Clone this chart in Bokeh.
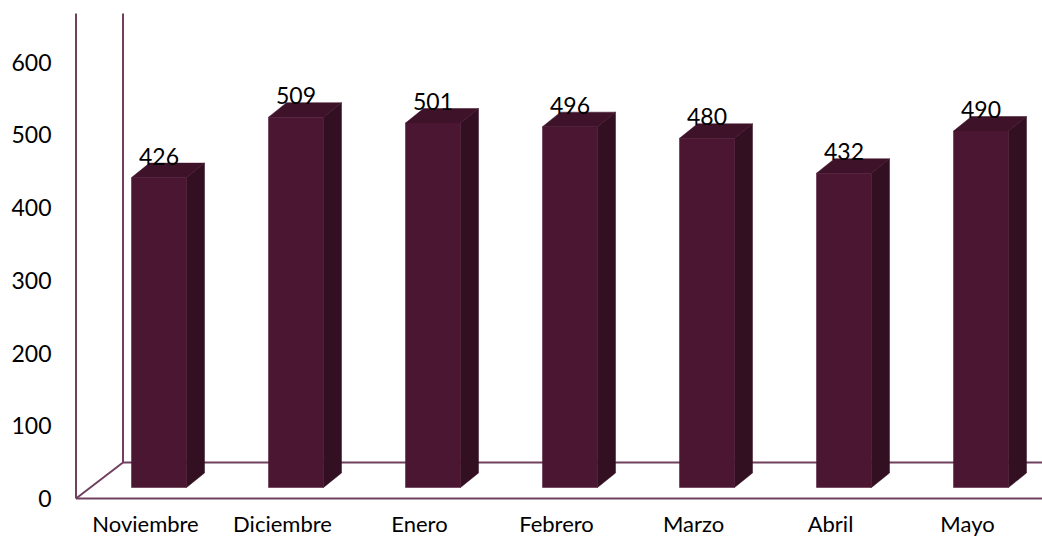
from bokeh.plotting import figure
from bokeh.models import Range1d, FixedTicker
from bokeh.embed import file_html
from bokeh.resources import INLINE
from bokeh.core.properties import value

# ---- data ----
months = ["Noviembre", "Diciembre", "Enero", "Febrero", "Marzo", "Abril", "Mayo"]
counts = [426, 509, 501, 496, 480, 432, 490]
y_ticks = [0, 100, 200, 300, 400, 500, 600]

# ---- style ----
FONT = "Lato"
FRONT = "#4A1631"
SIDE = "#330F22"
TOP = "#3E1229"
LINE = "#70405F"

# ---- geometry (in data units) ----
LEFT_B, BOTTOM_B = 60, 32
FW, FH = 982, 508              # frame size in px
CAT_PX = 137.0                 # px per category
U = 1 / 0.7275                 # value units per px
X_START = -85 / CAT_PX
X_END = X_START + FW / CAT_PX
Y_START = -10 * U
Y_END = Y_START + FH * U

X0 = -69.5 / CAT_PX            # front-left floor corner
DX, DY = 47 / CAT_PX, 36 * U   # floor depth
OX, OY = 13.5 / CAT_PX, 11 * U # bar offset into depth
BX, BY = 18 / CAT_PX, 14.5 * U # bar depth
W = 55 / CAT_PX                # bar width
WALL_TOP = 485 * U
LABEL_GAP = 7 * U

p = figure(frame_width=FW, frame_height=FH,
           x_range=Range1d(X_START, X_END), y_range=Range1d(Y_START, Y_END),
           output_backend="svg", toolbar_location=None,
           min_border_left=LEFT_B, min_border_right=0, min_border_top=0,
           min_border_bottom=BOTTOM_B)
p.outline_line_color = None
p.xgrid.visible = False
p.ygrid.visible = False
p.background_fill_color = "white"

# walls / floor
xr = X_END
p.multi_line(xs=[[X0, xr], [X0 + DX, xr], [X0, X0 + DX], [X0, X0], [X0 + DX, X0 + DX]],
             ys=[[0, 0], [DY, DY], [0, DY], [0, WALL_TOP], [DY, WALL_TOP]],
             line_color=LINE, line_width=2)

# bars
fx, fy, sx, sy, tx, ty = [], [], [], [], [], []
for i, v in enumerate(counts):
    L = i - W / 2 + OX
    R = i + W / 2 + OX
    B = OY
    T = v + OY
    fx.append([L, R, R, L]); fy.append([B, B, T, T])
    sx.append([R, R + BX, R + BX, R]); sy.append([B, B + BY, T + BY, T])
    tx.append([L, R, R + BX, L + BX]); ty.append([T, T, T + BY, T + BY])
p.patches(sx, sy, fill_color=SIDE, line_color=SIDE, line_width=0.5)
p.patches(tx, ty, fill_color=TOP, line_color=TOP, line_width=0.5)
p.patches(fx, fy, fill_color=FRONT, line_color=FRONT, line_width=0.5)

# value labels
p.text(x=[i + OX for i in range(len(counts))],
       y=[v + OY + BY + LABEL_GAP for v in counts],
       text=[str(v) for v in counts],
       text_align="center", text_baseline="alphabetic",
       text_font=value(FONT), text_font_size="23px", text_color="black")

# axes
p.yaxis.ticker = FixedTicker(ticks=y_ticks)
p.yaxis.axis_line_color = None
p.yaxis.major_tick_line_color = None
p.yaxis.minor_tick_line_color = None
p.yaxis.major_label_standoff = 3
p.yaxis.major_label_text_font = FONT
p.yaxis.major_label_text_font_size = "23px"
p.yaxis.major_label_text_color = "black"

p.xaxis.ticker = FixedTicker(ticks=list(range(len(months))))
p.xaxis.major_label_overrides = {i: m for i, m in enumerate(months)}
p.xaxis.axis_line_color = None
p.xaxis.major_tick_line_color = None
p.xaxis.minor_tick_line_color = None
p.xaxis.major_label_standoff = -5
p.xaxis.major_label_text_font = FONT
p.xaxis.major_label_text_font_size = "22px"
p.xaxis.major_label_text_color = "black"

open("out.html", "w").write(file_html(p, INLINE))
